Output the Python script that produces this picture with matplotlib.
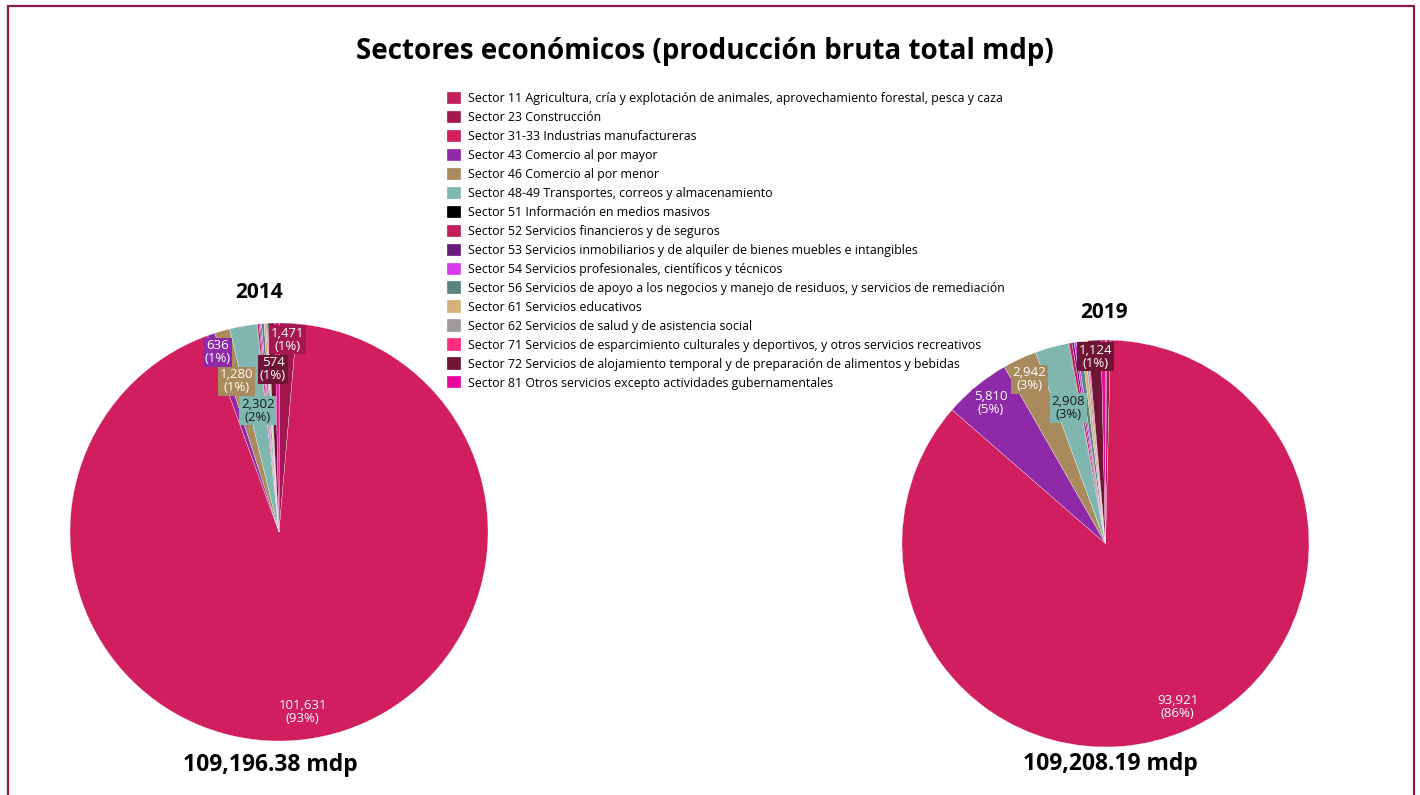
import matplotlib
matplotlib.use('Agg')
import matplotlib.pyplot as plt
import numpy as np
from matplotlib.patches import Rectangle

plt.rcParams['font.family'] = ['Open Sans', 'DejaVu Sans']

W, H = 1420, 795

# Sectores SCIAN, en el orden en que se dibujan las rebanadas
sectores = ["11", "23", "31-33", "43", "46", "48-49", "51", "52",
            "53", "54", "56", "61", "62", "71", "72", "81"]
nombres = [
    "Agricultura, cría y explotación de animales, aprovechamiento forestal, pesca y caza",
    "Construcción",
    "Industrias manufactureras",
    "Comercio al por mayor",
    "Comercio al por menor",
    "Transportes, correos y almacenamiento",
    "Información en medios masivos",
    "Servicios financieros y de seguros",
    "Servicios inmobiliarios y de alquiler de bienes muebles e intangibles",
    "Servicios profesionales, científicos y técnicos",
    "Servicios de apoyo a los negocios y manejo de residuos, y servicios de remediación",
    "Servicios educativos",
    "Servicios de salud y de asistencia social",
    "Servicios de esparcimiento culturales y deportivos, y otros servicios recreativos",
    "Servicios de alojamiento temporal y de preparación de alimentos y bebidas",
    "Otros servicios excepto actividades gubernamentales",
]
colores = ["#C2205C", "#A3194F", "#D01E5F", "#8E2AA8", "#A88A5C", "#7FB7B0",
           "#000000", "#C0215A", "#6A1B7A", "#D63DE8", "#5B8480", "#D4B07A",
           "#9E9A9E", "#FF2D80", "#6F1535", "#E8079A"]

# Producción bruta total (millones de pesos)
valores_2014 = [30, 1471, 101631, 636, 1280, 2302, 40, 150, 90, 120,
                200, 150, 100, 75, 574, 347.38]
valores_2019 = [90, 350, 93921, 5810, 2942, 2908, 60, 250, 180, 200,
                400, 300, 190, 103, 1124, 380.19]

# distancia radial de cada etiqueta (fracción del radio)
radio_etq_2014 = {"23": 0.92, "31-33": 0.87, "43": 0.91, "46": 0.75,
                  "48-49": 0.59, "72": 0.78}
radio_etq_2019 = {"31-33": 0.88, "43": 0.89, "46": 0.89, "48-49": 0.69,
                  "72": 0.92}


def px_axes(fig, left, top, size):
    return fig.add_axes([left / W, 1 - (top + size) / H, size / W, size / H])


def dibujar_pastel(ax, valores, radios):
    total = sum(valores)
    wedges, _ = ax.pie(valores, colors=colores, startangle=90, counterclock=False,
                       wedgeprops=dict(edgecolor='white', linewidth=0.2))
    for w, v, cod, col in zip(wedges, valores, sectores, colores):
        if cod not in radios:
            continue
        ang = np.deg2rad((w.theta1 + w.theta2) / 2)
        r = radios[cod]
        tcol = '#1a1a1a' if cod == "48-49" else 'white'
        ax.text(r * np.cos(ang), r * np.sin(ang), f"{v:,.0f}\n({v / total:.0%})",
                ha='center', va='center', fontsize=9.5, color=tcol, linespacing=1.0,
                bbox=dict(boxstyle='square,pad=0.12', fc=col, ec='none'))
    ax.set_xlim(-1, 1)
    ax.set_ylim(-1, 1)
    ax.axis('off')
    return wedges, total


fig = plt.figure(figsize=(W / 100, H / 100), dpi=100)

ax1 = px_axes(fig, 70, 323, 418)
wedges, total_2014 = dibujar_pastel(ax1, valores_2014, radio_etq_2014)
ax2 = px_axes(fig, 902, 340, 407)
_, total_2019 = dibujar_pastel(ax2, valores_2019, radio_etq_2019)

fig.text(705 / W, 1 - 52 / H, "Sectores económicos (producción bruta total mdp)",
         ha='center', va='center', fontsize=20, fontweight='bold')
fig.text(259 / W, 1 - 293 / H, "2014", ha='center', va='center', fontsize=15, fontweight='bold')
fig.text(1104 / W, 1 - 312 / H, "2019", ha='center', va='center', fontsize=15, fontweight='bold')
fig.text(270 / W, 1 - 765 / H, f"{total_2014:,.2f} mdp", ha='center', va='center',
         fontsize=16.5, fontweight='bold')
fig.text(1110 / W, 1 - 764 / H, f"{total_2019:,.2f} mdp", ha='center', va='center',
         fontsize=16.5, fontweight='bold')

etiquetas = [f"Sector {s} {n}" for s, n in zip(sectores, nombres)]
fig.legend(wedges, etiquetas, loc='upper left', bbox_to_anchor=(447 / W, 1 - 92 / H),
           frameon=False, fontsize=8.9, handlelength=1.15, handleheight=1.15,
           handletextpad=0.55, labelspacing=0.455, borderaxespad=0, borderpad=0)

# marco
fig.add_artist(Rectangle((8 / W, -0.1), (1414 - 8) / W, (H - 6) / H + 0.1,
                         transform=fig.transFigure, fill=False, ec='#8B1A4A', lw=1.6))

fig.savefig("out.png", dpi=100)
